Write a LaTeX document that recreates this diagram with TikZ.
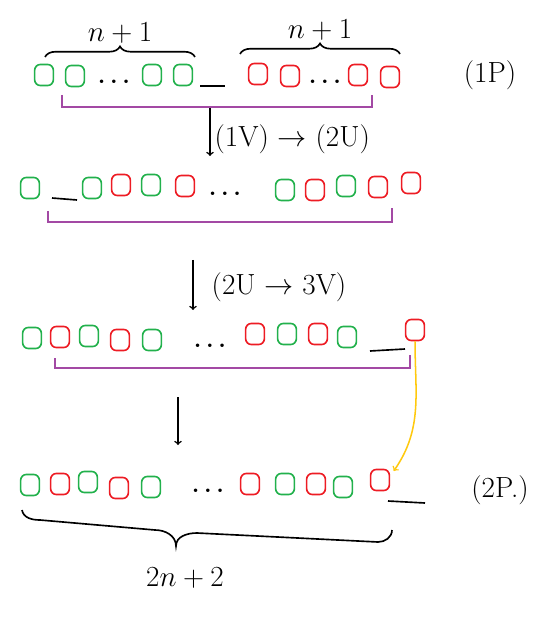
\documentclass[tikz,border=0pt]{standalone}
\usepackage{tikz}
\usetikzlibrary{arrows,decorations.pathreplacing}
\definecolor{pgreen}{RGB}{34,177,76}
\definecolor{pred}{RGB}{237,28,36}
\definecolor{ppurple}{RGB}{163,73,164}
\definecolor{pyellow}{RGB}{255,201,14}
\newcommand{\bigdots}{{\huge\textbf{.\hspace{4pt}.\hspace{4pt}.}}}
\tikzset{
  gb/.style={draw=pgreen, line width=1.4pt, rounded corners=5pt, minimum width=16pt, minimum height=18pt, inner sep=0pt},
  rb/.style={gb, draw=pred},
  gap/.style={line width=1.4pt},
  bkt/.style={draw=ppurple, line width=1.4pt},
  brc/.style={line width=1.4pt, decorate, decoration={brace, amplitude=9pt}},
  stepar/.style={->, line width=1.3pt}
}

\begin{document}
\begin{tikzpicture}[x=0.03cm,y=-0.03cm]
\useasboundingbox (0,0) rectangle (540,629);

% row 1
  \draw (44,75) node[gb] (g11) {};
  \draw (75,76) node[gb] (g12) {};
  \draw (114,82) node (d11) {\bigdots};
  \draw (152,75) node[gb] (g13) {};
  \draw (183,75) node[gb] (g14) {};
  \draw[gap] (200,86) -- (225,86);
  \draw (258,74) node[rb] (r11) {};
  \draw (290,76) node[rb] (r12) {};
  \draw (325,82) node (d12) {\bigdots};
  \draw (358,75) node[rb] (r13) {};
  \draw (390,77) node[rb] (r14) {};
  \draw (490,75) node (p1) {\Huge (1P)};

  \draw[brc] (45,57) -- (195,57) node[midway,above=8pt] (n1) {\Huge $n+1$};
  \draw[brc] (240,54) -- (400,54) node[midway,above=8pt] (n2) {\Huge $n+1$};
  \draw[bkt] (62,95) -- (62,107) -- (372,107) -- (372,95);

  \coordinate (a1) at (210,108);
  \coordinate (a2) at (210,156);
  \path[stepar] (a1) edge node[pos=0.65,right] {\Huge (1V) $\to$ (2U)} (a2);

% row 2
  \draw (30,188) node[gb] (g21) {};
  \draw[gap] (52,198) -- (77,200);
  \draw (92,188) node[gb] (g22) {};
  \draw (121,185) node[rb] (r21) {};
  \draw (151,185) node[gb] (g23) {};
  \draw (185,186) node[rb] (r22) {};
  \draw (225,194) node (d21) {\bigdots};
  \draw (285,190) node[gb] (g24) {};
  \draw (315,190) node[rb] (r23) {};
  \draw (346,186) node[gb] (g25) {};
  \draw (378,187) node[rb] (r24) {};
  \draw (411,183) node[rb] (r25) {};

  \draw[bkt] (48,211) -- (48,222) -- (392,222) -- (392,208);

  \coordinate (b1) at (193,260);
  \coordinate (b2) at (193,310);
  \path[stepar] (b1) edge node[pos=0.55,right=12pt] {\Huge (2U $\to$ 3V)} (b2);

% row 3
  \draw (32,338) node[gb] (g31) {};
  \draw (60,337) node[rb] (r31) {};
  \draw (89,336) node[gb] (g32) {};
  \draw (120,340) node[rb] (r32) {};
  \draw (152,340) node[gb] (g33) {};
  \draw (210,346) node (d31) {\bigdots};
  \draw (255,334) node[rb] (r33) {};
  \draw (287,334) node[gb] (g34) {};
  \draw (318,334) node[rb] (r34) {};
  \draw (347,337) node[gb] (g35) {};
  \draw[gap] (370,351) -- (405,349);
  \draw (415,330) node[rb] (r35) {};

  \draw[bkt] (55,358) -- (55,368) -- (410,368) -- (410,355);

  \coordinate (c1) at (178,397);
  \coordinate (c2) at (178,445);
  \path[stepar] (c1) edge (c2);

% row 4
  \draw (30,485) node[gb] (g41) {};
  \draw (60,484) node[rb] (r41) {};
  \draw (88,482) node[gb] (g42) {};
  \draw (119,488) node[rb] (r42) {};
  \draw (151,487) node[gb] (g43) {};
  \draw (208,491) node (d41) {\bigdots};
  \draw (250,484) node[rb] (r43) {};
  \draw (285,484) node[gb] (g44) {};
  \draw (316,484) node[rb] (r44) {};
  \draw (343,487) node[gb] (g45) {};
  \draw (380,480) node[rb] (r45) {};
  \draw[gap] (388,501) -- (425,503);
  \draw (500,490) node (p2) {\Huge (2P.)};

  % bottom brace
  \draw[gap] (22,510) to[out=-80,in=180] (40,520) -- (155,530) to[out=0,in=90] (176,546)
    to[out=90,in=180] (197,533) -- (378,542) to[out=0,in=-90] (392,530);
  \draw (185,578) node (n3) {\Huge $2n+2$};

  \draw[stepar, draw=pyellow] (r35.south) to[out=-90, in=55] ([xshift=3pt,yshift=-2pt]r45.north east);

\end{tikzpicture}
\end{document}
